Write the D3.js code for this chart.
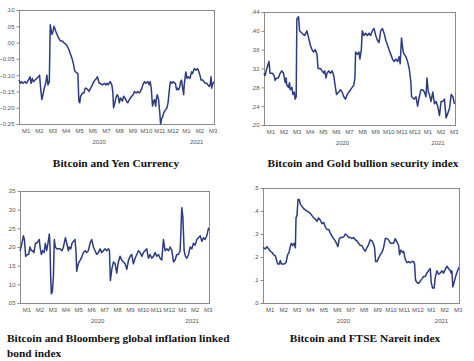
<!DOCTYPE html>
<html>
<head>
<meta charset="utf-8">
<script src="https://cdn.jsdelivr.net/npm/d3@7"></script>
<style>
  body { margin: 0; background: #fff; }
  svg { display: block; }
</style>
</head>
<body>
<script>
// x positions are months since 2020-01-01
const monthLabels = ["M1","M2","M3","M4","M5","M6","M7","M8","M9","M10","M11","M12","M1","M2","M3"];
const yearLabels = ["2020", "2021"];
const yearCenters = [6, 13.3];

const yenTicks = [-0.25, -0.20, -0.15, -0.10, -0.05, 0.00, 0.05, 0.10];
const goldTicks = [0.20, 0.24, 0.28, 0.32, 0.36, 0.40, 0.44];
const bondTicks = [0.05, 0.10, 0.15, 0.20, 0.25, 0.30, 0.35];
const ftseTicks = [0, 0.1, 0.2, 0.3, 0.4, 0.5];

const yenSeries = [[0,-.115],[0.1,-.125],[0.2,-.12],[0.3,-.125],[0.45,-.12],[0.55,-.125],[0.7,-.115],[0.83,-.105],[0.9,-.125],[1.0,-.11],[1.08,-.12],[1.2,-.115],[1.34,-.11],[1.54,-.10],[1.62,-.14],[1.71,-.175],[1.8,-.16],[1.89,-.14],[2.0,-.125],[2.09,-.10],[2.17,-.13],[2.27,-.12],[2.34,.055],[2.4,.04],[2.47,.025],[2.55,.035],[2.62,.05],[2.67,.045],[2.75,.035],[2.85,.025],[2.95,.015],[3.1,.005],[3.25,.005],[3.35,0],[3.5,-.005],[3.6,-.01],[3.72,-.02],[3.85,-.035],[3.98,-.05],[4.1,-.07],[4.16,-.085],[4.23,-.09],[4.41,-.095],[4.48,-.18],[4.55,-.185],[4.61,-.165],[4.75,-.155],[4.86,-.155],[4.95,-.14],[5.04,-.14],[5.15,-.145],[5.24,-.15],[5.37,-.14],[5.49,-.13],[5.6,-.12],[5.69,-.115],[5.8,-.11],[5.87,-.105],[5.94,-.115],[6.0,-.125],[6.07,-.125],[6.25,-.13],[6.4,-.125],[6.5,-.13],[6.6,-.125],[6.68,-.13],[6.83,-.12],[6.95,-.13],[7.02,-.15],[7.08,-.20],[7.18,-.185],[7.25,-.17],[7.35,-.16],[7.43,-.165],[7.51,-.185],[7.6,-.17],[7.68,-.175],[7.75,-.18],[7.83,-.165],[7.93,-.17],[8.05,-.18],[8.14,-.185],[8.26,-.175],[8.35,-.17],[8.44,-.165],[8.55,-.16],[8.64,-.15],[8.77,-.155],[8.89,-.15],[9.0,-.155],[9.09,-.15],[9.2,-.14],[9.27,-.13],[9.4,-.12],[9.5,-.125],[9.65,-.12],[9.75,-.13],[9.82,-.12],[9.9,-.14],[10.0,-.195],[10.08,-.18],[10.15,-.175],[10.23,-.195],[10.3,-.17],[10.35,-.16],[10.45,-.175],[10.55,-.22],[10.6,-.25],[10.67,-.235],[10.73,-.23],[10.85,-.215],[10.91,-.21],[11.0,-.205],[11.08,-.20],[11.16,-.185],[11.23,-.155],[11.3,-.13],[11.34,-.12],[11.45,-.125],[11.54,-.12],[11.65,-.125],[11.71,-.125],[11.8,-.145],[11.86,-.14],[11.95,-.145],[12.04,-.135],[12.1,-.12],[12.17,-.115],[12.25,-.14],[12.33,-.16],[12.37,-.13],[12.49,-.09],[12.58,-.11],[12.67,-.105],[12.8,-.11],[12.92,-.09],[13.0,-.095],[13.12,-.08],[13.25,-.085],[13.35,-.08],[13.43,-.085],[13.55,-.10],[13.63,-.115],[13.75,-.115],[13.85,-.12],[13.95,-.125],[14.06,-.125],[14.15,-.13],[14.25,-.135],[14.31,-.13],[14.38,-.105],[14.43,-.14],[14.48,-.13],[14.58,-.12]];

const goldSeries = [[0,.31],[0.08,.305],[0.21,.32],[0.38,.335],[0.46,.31],[0.64,.31],[0.77,.305],[0.85,.295],[0.97,.30],[1.10,.30],[1.23,.31],[1.36,.315],[1.49,.31],[1.62,.29],[1.69,.30],[1.74,.285],[1.87,.28],[1.95,.29],[2.0,.275],[2.13,.28],[2.21,.265],[2.31,.27],[2.38,.255],[2.46,.26],[2.51,.425],[2.64,.43],[2.72,.40],[2.9,.395],[3.1,.39],[3.28,.40],[3.41,.385],[3.54,.37],[3.67,.36],[3.79,.355],[3.92,.36],[4.05,.35],[4.13,.32],[4.31,.32],[4.44,.315],[4.56,.31],[4.64,.315],[4.74,.30],[4.82,.31],[4.95,.315],[5.08,.31],[5.21,.315],[5.33,.305],[5.46,.28],[5.54,.265],[5.72,.27],[5.85,.275],[5.97,.27],[6.10,.26],[6.23,.255],[6.36,.265],[6.49,.27],[6.62,.275],[6.74,.28],[6.87,.285],[6.95,.30],[7.0,.355],[7.13,.35],[7.26,.355],[7.33,.34],[7.44,.36],[7.51,.40],[7.64,.39],[7.77,.395],[7.9,.39],[8.03,.395],[8.15,.39],[8.28,.40],[8.41,.405],[8.54,.39],[8.67,.38],[8.79,.375],[8.92,.40],[9.05,.405],[9.18,.395],[9.31,.38],[9.44,.37],[9.56,.36],[9.69,.35],[9.82,.34],[9.95,.335],[10.08,.34],[10.21,.335],[10.33,.345],[10.41,.33],[10.51,.385],[10.64,.355],[10.72,.35],[10.85,.345],[10.97,.335],[11.1,.32],[11.23,.29],[11.28,.26],[11.49,.255],[11.62,.26],[11.74,.24],[11.87,.26],[12.0,.275],[12.13,.275],[12.26,.27],[12.38,.26],[12.46,.30],[12.56,.27],[12.64,.265],[12.77,.25],[12.9,.27],[13.03,.245],[13.15,.25],[13.28,.24],[13.41,.22],[13.54,.25],[13.67,.25],[13.79,.255],[13.92,.215],[14.05,.225],[14.18,.235],[14.31,.265],[14.44,.26],[14.56,.245]];

const bondSeries = [[0,.19],[0.08,.20],[0.15,.21],[0.26,.23],[0.34,.22],[0.44,.175],[0.57,.18],[0.67,.18],[0.77,.20],[0.88,.19],[0.98,.19],[1.08,.185],[1.19,.21],[1.29,.21],[1.39,.215],[1.49,.22],[1.55,.20],[1.65,.18],[1.75,.19],[1.86,.185],[1.96,.21],[2.06,.19],[2.16,.21],[2.27,.235],[2.32,.20],[2.37,.12],[2.42,.075],[2.5,.08],[2.58,.12],[2.65,.22],[2.73,.20],[2.84,.195],[2.96,.195],[3.09,.195],[3.25,.19],[3.35,.20],[3.51,.225],[3.61,.21],[3.74,.19],[3.81,.20],[3.92,.195],[4.02,.21],[4.12,.215],[4.25,.22],[4.33,.185],[4.38,.135],[4.46,.15],[4.56,.16],[4.66,.165],[4.79,.175],[4.9,.185],[5.03,.19],[5.15,.185],[5.28,.19],[5.41,.21],[5.54,.22],[5.67,.20],[5.8,.19],[5.93,.18],[6.06,.185],[6.19,.195],[6.31,.185],[6.44,.19],[6.57,.195],[6.7,.19],[6.83,.195],[6.91,.19],[6.98,.11],[7.09,.14],[7.22,.16],[7.35,.155],[7.47,.13],[7.6,.16],[7.73,.175],[7.86,.165],[7.99,.16],[8.12,.155],[8.25,.14],[8.38,.165],[8.51,.175],[8.63,.18],[8.76,.155],[8.89,.17],[9.02,.18],[9.15,.19],[9.28,.185],[9.41,.175],[9.54,.185],[9.66,.19],[9.79,.195],[9.92,.17],[10.05,.18],[10.18,.17],[10.31,.175],[10.44,.185],[10.57,.175],[10.7,.18],[10.82,.17],[10.95,.165],[11.08,.22],[11.21,.19],[11.34,.195],[11.47,.19],[11.6,.20],[11.73,.19],[11.86,.16],[11.98,.165],[12.11,.18],[12.24,.18],[12.37,.19],[12.5,.305],[12.58,.28],[12.68,.19],[12.78,.175],[12.89,.17],[13.02,.18],[13.14,.20],[13.27,.195],[13.4,.21],[13.53,.205],[13.66,.22],[13.79,.225],[13.92,.23],[14.05,.215],[14.18,.225],[14.3,.22],[14.43,.23],[14.56,.25],[14.6,.245]];

const ftseSeries = [[0,.24],[0.05,.24],[0.17,.235],[0.3,.245],[0.42,.235],[0.55,.225],[0.67,.22],[0.79,.21],[0.92,.205],[0.99,.19],[1.09,.17],[1.22,.17],[1.29,.185],[1.36,.17],[1.46,.17],[1.59,.17],[1.71,.175],[1.84,.21],[1.94,.22],[2.03,.245],[2.11,.26],[2.21,.25],[2.33,.26],[2.41,.24],[2.46,.37],[2.53,.38],[2.61,.45],[2.7,.45],[2.78,.43],[2.9,.42],[3.03,.41],[3.15,.405],[3.28,.40],[3.4,.395],[3.52,.39],[3.65,.38],[3.77,.37],[3.9,.365],[4.02,.355],[4.14,.37],[4.27,.36],[4.39,.345],[4.52,.35],[4.64,.33],[4.76,.32],[4.89,.32],[5.01,.305],[5.14,.29],[5.26,.28],[5.38,.27],[5.51,.255],[5.58,.245],[5.68,.28],[5.81,.285],[5.93,.285],[6.05,.29],[6.13,.30],[6.25,.295],[6.38,.285],[6.5,.285],[6.63,.28],[6.75,.285],[6.87,.275],[7.0,.27],[7.12,.26],[7.25,.25],[7.37,.25],[7.49,.235],[7.62,.225],[7.74,.24],[7.87,.255],[7.99,.275],[8.11,.27],[8.24,.255],[8.31,.24],[8.39,.18],[8.49,.18],[8.61,.195],[8.73,.21],[8.86,.22],[8.98,.24],[9.11,.28],[9.23,.28],[9.35,.275],[9.48,.26],[9.6,.26],[9.73,.26],[9.85,.28],[9.98,.265],[10.1,.25],[10.17,.21],[10.27,.23],[10.4,.22],[10.47,.225],[10.6,.19],[10.72,.175],[10.84,.18],[10.97,.175],[11.09,.18],[11.22,.18],[11.29,.17],[11.36,.10],[11.46,.09],[11.59,.085],[11.71,.095],[11.84,.105],[11.96,.115],[12.08,.115],[12.21,.13],[12.33,.14],[12.46,.15],[12.53,.09],[12.63,.065],[12.75,.065],[12.83,.11],[12.95,.14],[13.08,.125],[13.2,.13],[13.33,.14],[13.45,.13],[13.57,.145],[13.7,.16],[13.82,.15],[13.95,.14],[14.02,.13],[14.07,.14],[14.14,.07],[14.24,.09],[14.37,.12],[14.49,.14],[14.6,.155]];

const W = 474, H = 361;
const lineColor = "#2b3c82";

// strip the leading zero like the original software does (".10", "-.05")
const noZero = f => d => d3.format(f)(d).replace(/^(-?)0\./, "$1.");

const panels = [
  { data: yenSeries, box: [19, 10, 214, 124], ticks: yenTicks, fmt: noZero(".2f"),
    title: ["Bitcoin and Yen Currency"], tx: 116, ty: 167, anchor: "middle" },
  { data: goldSeries, box: [264, 12, 455, 125], ticks: goldTicks, fmt: noZero(".2f"),
    title: ["Bitcoin and Gold bullion security index"], tx: 363, ty: 167, anchor: "middle" },
  { data: bondSeries, box: [20, 191, 209, 303], ticks: bondTicks, fmt: noZero(".2f"),
    title: ["Bitcoin and Bloomberg global inflation linked", "bond index"], tx: 7, ty: 342, anchor: "start" },
  { data: ftseSeries, box: [263, 188, 459, 303], ticks: ftseTicks, fmt: noZero(".1f"),
    title: ["Bitcoin and FTSE Nareit index"], tx: 365, ty: 342, anchor: "middle" }
];

const svg = d3.select("body").append("svg").attr("width", W).attr("height", H);

panels.forEach(p => {
  const [x0, y0, x1, y1] = p.box;
  const x = d3.scaleLinear().domain([0, 14.6]).range([x0, x1]);
  const y = d3.scaleLinear().domain(d3.extent(p.ticks)).range([y1, y0]);
  const g = svg.append("g");

  g.append("rect")
    .attr("x", x0 + 0.5).attr("y", y0 + 0.5)
    .attr("width", x1 - x0).attr("height", y1 - y0)
    .attr("fill", "none").attr("stroke", "#8a8a8a").attr("stroke-width", 1);

  const yAxis = g.append("g")
    .attr("transform", `translate(${x0 + 0.5},0)`)
    .call(d3.axisLeft(y).tickValues(p.ticks).tickSize(3).tickPadding(2).tickFormat(p.fmt));
  yAxis.select(".domain").remove();
  yAxis.selectAll("line").attr("stroke", "#8a8a8a");
  yAxis.selectAll("text").attr("fill", "#555").style("font", "6px 'Liberation Sans', Arial, sans-serif");

  const xAxis = g.append("g")
    .attr("transform", `translate(0,${y1 + 0.5})`)
    .call(d3.axisBottom(x).tickValues(d3.range(monthLabels.length).map(i => i + 0.5))
      .tickSize(0).tickPadding(4).tickFormat((d, i) => monthLabels[i]));
  xAxis.select(".domain").remove();
  xAxis.selectAll("text").attr("fill", "#555").style("font", "6px 'Liberation Sans', Arial, sans-serif");

  g.selectAll(".year").data(yearLabels).join("text")
    .attr("x", (d, i) => x(yearCenters[i])).attr("y", y1 + 20)
    .attr("text-anchor", "middle").attr("fill", "#555")
    .style("font", "6px 'Liberation Sans', Arial, sans-serif")
    .text(d => d);

  const line = d3.line().x(d => x(d[0])).y(d => y(d[1]));
  g.append("path").datum(p.data)
    .attr("d", line)
    .attr("fill", "none").attr("stroke", lineColor)
    .attr("stroke-width", 1.5).attr("stroke-linejoin", "round");

  const t = g.append("text")
    .attr("x", p.tx).attr("y", p.ty).attr("text-anchor", p.anchor)
    .style("font", "bold 11.4px 'Liberation Serif', 'Times New Roman', serif")
    .attr("fill", "#111");
  p.title.forEach((s, i) => t.append("tspan").attr("x", p.tx).attr("dy", i ? 15 : 0).text(s));
});
</script>
</body>
</html>
